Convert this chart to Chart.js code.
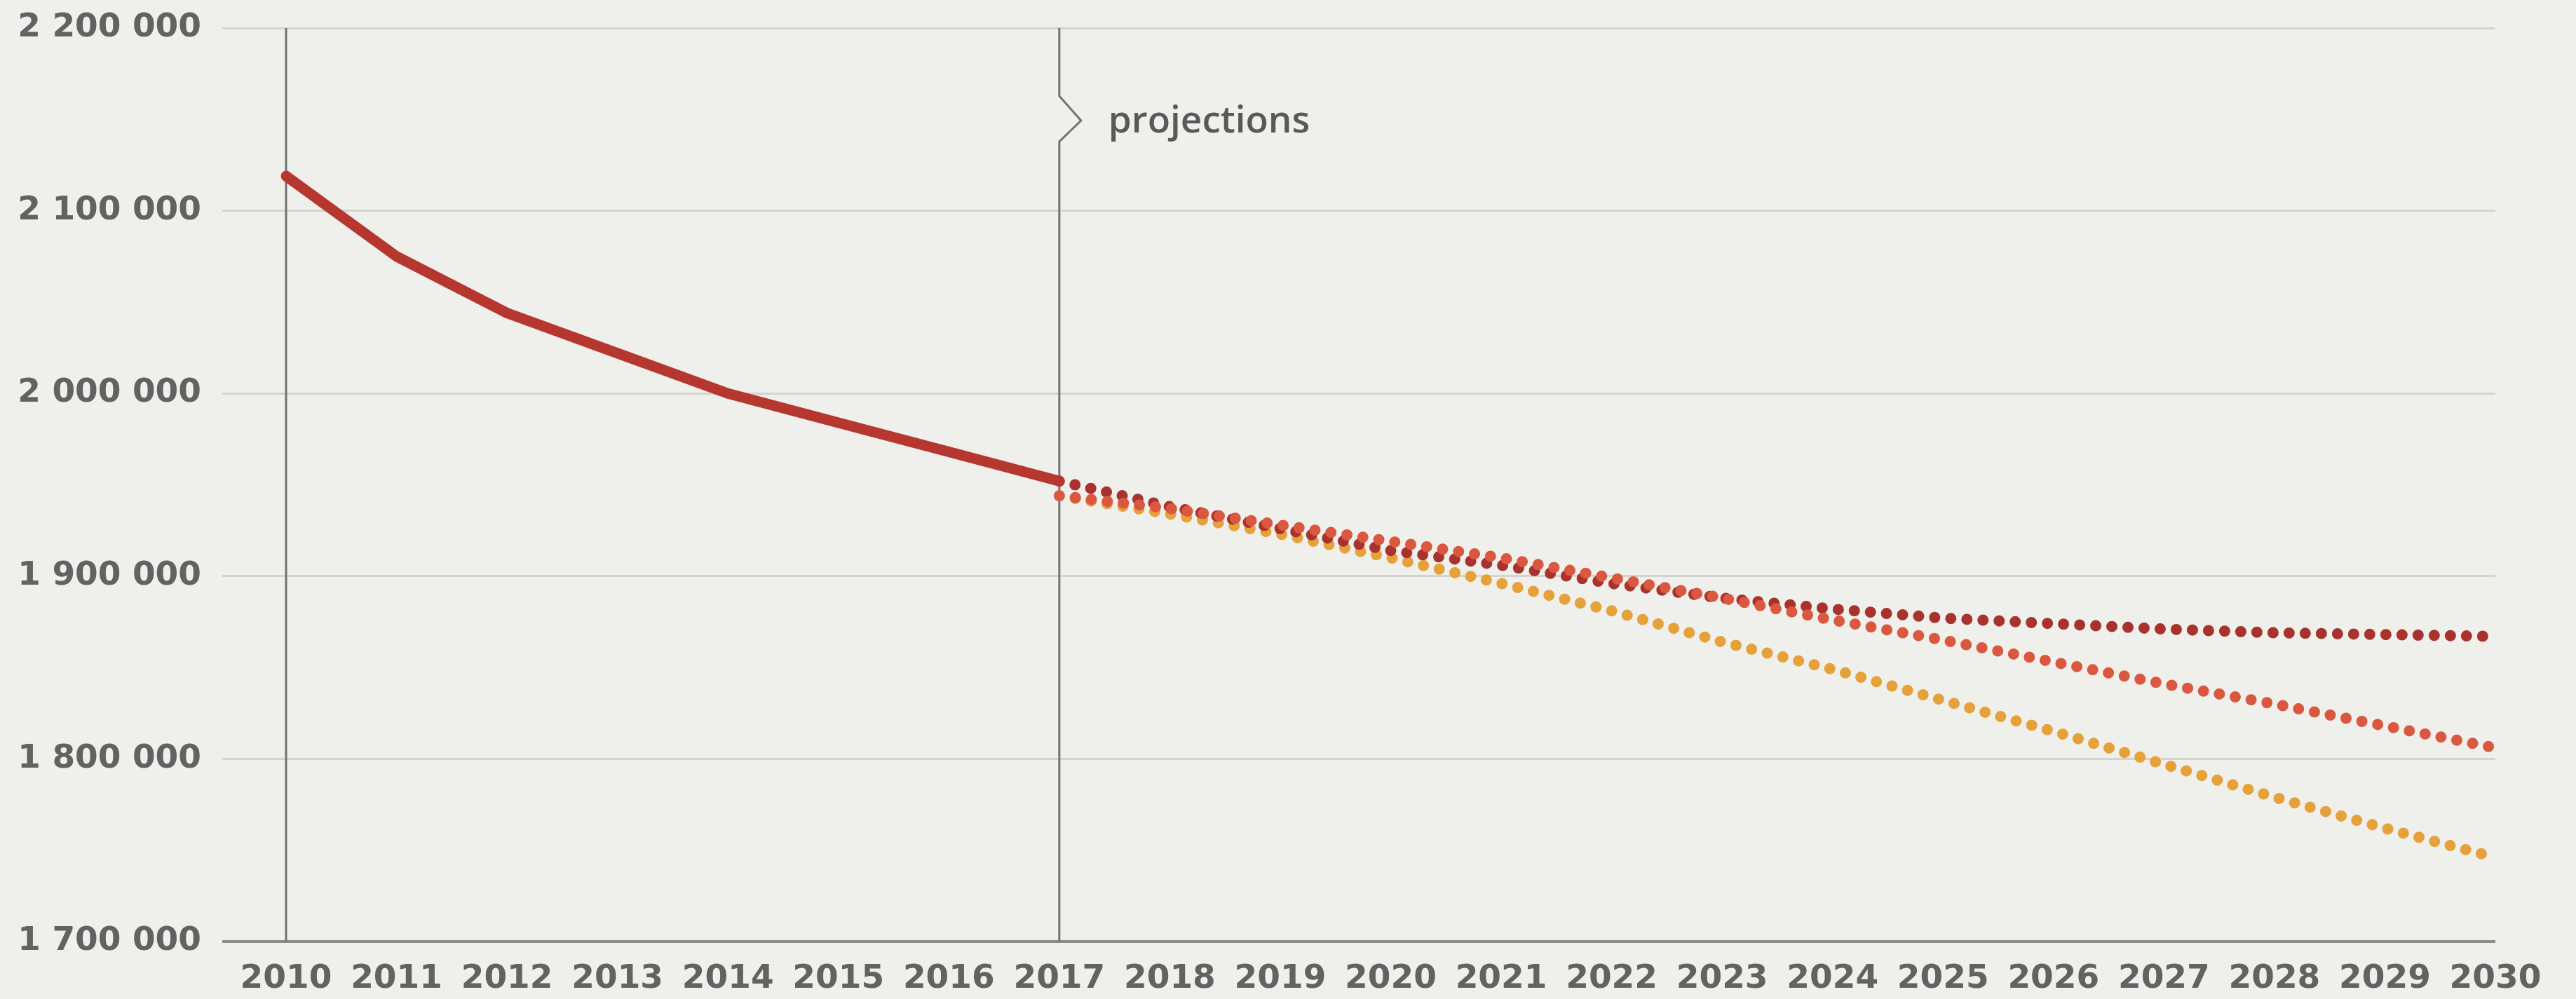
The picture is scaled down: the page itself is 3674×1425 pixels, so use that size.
<!DOCTYPE html>
<html>
<head>
<meta charset="utf-8">
<script src="https://cdn.jsdelivr.net/npm/chart.js@4"></script>
<style>
  html, body { margin: 0; padding: 0; background: #efefeb; }
  #wrap { width: 3674px; height: 1425px; }
</style>
</head>
<body>
<div id="wrap"><canvas id="chart"></canvas></div>
<script>
// Data
const years = ['2010', '2011', '2012', '2013', '2014', '2015', '2016', '2017', '2018', '2019',
  '2020', '2021', '2022', '2023', '2024', '2025', '2026', '2027', '2028', '2029', '2030'];

const historical = [2119000, 2075000, 2044000, 2022000, 2000000, 1984000, 1968000, 1952000,
  null, null, null, null, null, null, null, null, null, null, null, null, null];

const projHigh = [null, null, null, null, null, null, null,
  1952000, 1938000, 1926000, 1914000, 1906000, 1896000, 1888000, 1882000, 1877000, 1874000, 1871000, 1869000, 1868000, 1867000];

const projMid = [null, null, null, null, null, null, null,
  1944000, 1937000, 1928000, 1919000, 1910000, 1899000, 1888000, 1876000, 1865000, 1853000, 1841000, 1830000, 1818000, 1806000];

const projLow = [null, null, null, null, null, null, null,
  1944000, 1934000, 1923000, 1910000, 1896000, 1881000, 1864000, 1849000, 1832000, 1815000, 1797000, 1779000, 1762000, 1746000];

const yTicks = [1700000, 1800000, 1900000, 2000000, 2100000, 2200000];
const firstYear = '2010';
const projectionYear = '2017';
const projectionLabel = 'projections';

const textColor = '#626262';
const tickFont = { family: 'DejaVu Sans', weight: 'bold', size: 47 };

function formatNumber(v) {
  return v.toString().replace(/\B(?=(\d{3})+(?!\d))/g, ' ');
}

// Vertical marker lines, with the chevron on the projections line
const markerPlugin = {
  id: 'markers',
  beforeDatasetsDraw(chart) {
    const { ctx, chartArea, scales } = chart;
    ctx.save();
    ctx.strokeStyle = '#727272';
    ctx.lineWidth = 3;

    const x0 = scales.x.getPixelForValue(years.indexOf(firstYear));
    ctx.beginPath();
    ctx.moveTo(x0, chartArea.top);
    ctx.lineTo(x0, chartArea.bottom);
    ctx.stroke();

    const x1 = scales.x.getPixelForValue(years.indexOf(projectionYear));
    const t = chartArea.top;
    ctx.beginPath();
    ctx.moveTo(x1, t);
    ctx.lineTo(x1, t + 97);
    ctx.lineTo(x1 + 31, t + 132);
    ctx.lineTo(x1, t + 162);
    ctx.lineTo(x1, chartArea.bottom);
    ctx.stroke();

    ctx.fillStyle = '#595959';
    ctx.font = '600 53px "Open Sans"';
    ctx.textBaseline = 'alphabetic';
    ctx.textAlign = 'left';
    ctx.fillText(projectionLabel, x1 + 70, t + 149);
    ctx.restore();
  }
};

const dotted = (data, color) => ({
  data: data,
  borderColor: color,
  borderWidth: 16,
  borderCapStyle: 'round',
  borderDash: [0, 23],
  pointRadius: 0,
  tension: 0,
  fill: false
});

new Chart(document.getElementById('chart'), {
  type: 'line',
  data: {
    labels: years,
    datasets: [
      {
        data: historical,
        borderColor: '#b5372f',
        borderWidth: 15,
        borderCapStyle: 'round',
        borderJoinStyle: 'round',
        pointRadius: 0,
        tension: 0,
        fill: false
      },
      dotted(projMid, '#d9583f'),
      dotted(projHigh, '#a8322d'),
      dotted(projLow, '#e6a13a')
    ]
  },
  options: {
    responsive: true,
    maintainAspectRatio: false,
    animation: false,
    devicePixelRatio: 1,
    layout: { padding: { top: 40, right: 115, left: 0, bottom: 0 } },
    plugins: {
      legend: { display: false },
      tooltip: { enabled: false }
    },
    scales: {
      x: {
        type: 'category',
        offset: false,
        grid: { display: false },
        border: { display: false },
        ticks: {
          color: textColor,
          font: tickFont,
          padding: 18,
          autoSkip: false,
          maxRotation: 0
        },
        afterFit(scale) {
          scale.height = 82;
          scale.paddingLeft = 0;
          scale.paddingRight = 0;
        }
      },
      y: {
        min: yTicks[0],
        max: yTicks[yTicks.length - 1],
        border: { display: false },
        grid: {
          color: ctx => ctx.tick && ctx.tick.value === yTicks[0] ? '#8d8d88' : '#d4d4cf',
          tickColor: ctx => ctx.tick && ctx.tick.value === yTicks[0] ? '#8d8d88' : '#d4d4cf',
          lineWidth: ctx => ctx.tick && ctx.tick.value === yTicks[0] ? 4 : 3,
          tickLength: 91,
          drawTicks: true
        },
        ticks: {
          stepSize: 100000,
          color: textColor,
          font: tickFont,
          padding: 30,
          callback: v => formatNumber(v)
        },
        afterFit(scale) {
          scale.width = 408;
          scale.paddingTop = 0;
          scale.paddingBottom = 0;
        }
      }
    }
  },
  plugins: [markerPlugin]
});
</script>
</body>
</html>
